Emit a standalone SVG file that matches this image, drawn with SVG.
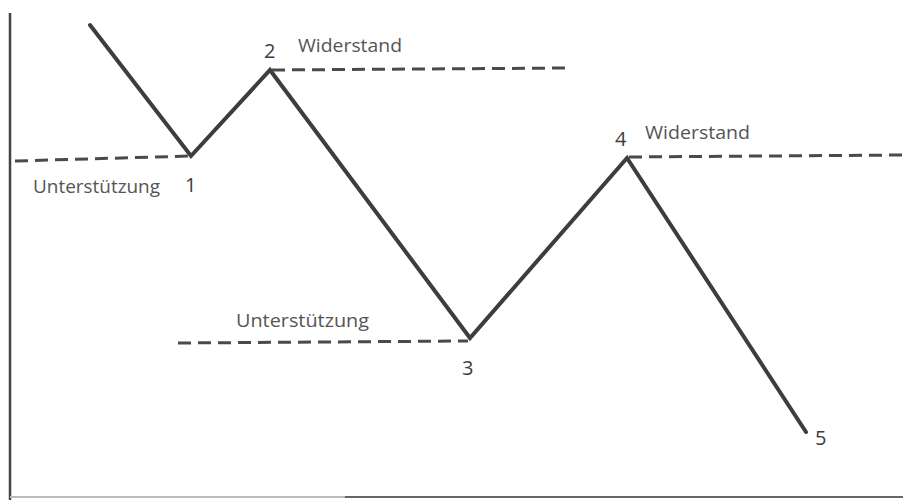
<svg xmlns="http://www.w3.org/2000/svg" width="903" height="500" viewBox="0 0 903 500">
<style>
.zig{fill:none;stroke:#3d3d3d;stroke-width:4;stroke-linejoin:miter;stroke-linecap:round}
.dash{fill:none;stroke:#4a4a4a;stroke-width:3;stroke-dasharray:13 7}
.axis{fill:none;stroke:#444;stroke-width:2.5}
.lbl{font-family:"Open Sans","Liberation Sans",sans-serif;font-size:18px;fill:#555}
.num{font-family:"Open Sans","Liberation Sans",sans-serif;font-size:20px;fill:#3d3d3d}
</style>
<rect width="903" height="500" fill="#fff"/>
<g id="axes">
<line class="axis" x1="10" y1="13" x2="10" y2="500"/>
<line x1="10" y1="497" x2="903" y2="497" stroke="#bbb" stroke-width="2"/>
<line x1="345" y1="497" x2="903" y2="497" stroke="#666" stroke-width="2"/>
</g>
<g id="connectors">
<polyline class="zig" points="90,25 191,156 270,70 470,338 627,158 806,432"/>
<line class="dash" x1="15" y1="161" x2="191" y2="156"/>
<line class="dash" x1="272" y1="70" x2="568" y2="68"/>
<line class="dash" x1="629" y1="157" x2="903" y2="155"/>
<line class="dash" x1="178" y1="343" x2="468" y2="341"/>
</g>
<g id="p1"><text class="num" x="185" y="192">1</text><text class="lbl" x="33" y="193" textLength="127" lengthAdjust="spacingAndGlyphs">Unterstützung</text></g>
<g id="p2"><text class="num" x="264" y="58">2</text><text class="lbl" x="298" y="52" textLength="104" lengthAdjust="spacingAndGlyphs">Widerstand</text></g>
<g id="p3"><text class="num" x="462" y="375">3</text><text class="lbl" x="236" y="327" textLength="133" lengthAdjust="spacingAndGlyphs">Unterstützung</text></g>
<g id="p4"><text class="num" x="615" y="146">4</text><text class="lbl" x="645" y="139" textLength="105" lengthAdjust="spacingAndGlyphs">Widerstand</text></g>
<g id="p5"><text class="num" x="815" y="445">5</text></g>
</svg>
